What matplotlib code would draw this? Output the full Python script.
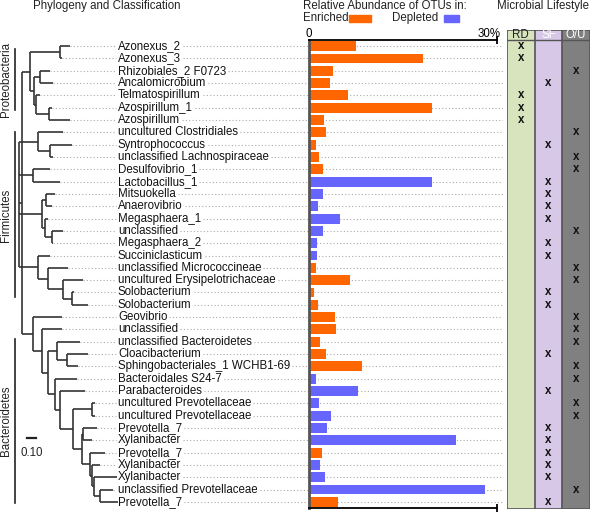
import matplotlib.pyplot as plt
from matplotlib.patches import Rectangle

plt.rcParams['font.family'] = ['Liberation Sans', 'DejaVu Sans']

W, H = 592, 513

labels = [
    "Azonexus_2", "Azonexus_3", "Rhizobiales_2 F0723", "Ancalomicrobium",
    "Telmatospirillum", "Azospirillum_1", "Azospirillum", "uncultured Clostridiales",
    "Syntrophococcus", "unclassified Lachnospiraceae", "Desulfovibrio_1", "Lactobacillus_1",
    "Mitsuokella", "Anaerovibrio", "Megasphaera_1", "unclassified",
    "Megasphaera_2", "Succiniclasticum", "unclassified Micrococcineae",
    "uncultured Erysipelotrichaceae", "Solobacterium", "Solobacterium",
    "Geovibrio", "unclassified", "unclassified Bacteroidetes", "Cloacibacterium",
    "Sphingobacteriales_1 WCHB1-69", "Bacteroidales S24-7", "Parabacteroides",
    "uncultured Prevotellaceae", "uncultured Prevotellaceae", "Prevotella_7",
    "Xylanibacter", "Prevotella_7", "Xylanibacter", "Xylanibacter",
    "unclassified Prevotellaceae", "Prevotella_7",
]

# relative abundance (%) of each OTU
abundance = [
    7.5, 18.2, 3.8, 3.4, 6.2, 19.6, 2.4, 2.7,
    1.1, 1.6, 2.2, 19.6, 2.3, 1.4, 4.9, 2.3,
    1.2, 1.3, 1.1, 6.6, 0.85, 1.5, 4.2, 4.3,
    1.75, 2.7, 8.5, 1.1, 7.8, 1.6, 3.5, 2.8,
    23.4, 2.0, 1.75, 2.6, 28.1, 4.7,
]

# E = enriched, D = depleted
status = list("EEEEEEEEEEEDDDDDDDEEEEEEEEEDDDDDDEDDDE")

lifestyle_cols = ["RD", "SF", "O/U"]
lifestyle = [
    "RD", "RD", "O/U", "SF", "RD", "RD", "RD", "O/U",
    "SF", "O/U", "O/U", "SF", "SF", "SF", "SF", "O/U",
    "SF", "SF", "O/U", "O/U", "SF", "SF", "O/U", "O/U",
    "O/U", "SF", "O/U", "O/U", "SF", "O/U", "O/U", "SF",
    "SF", "SF", "SF", "SF", "O/U", "SF",
]

# tree, leaves numbered by row, branch lengths in substitutions/site
tree_newick = """
(
 (7:0.278,(8:0.244,9:0.033):0.133):0.211,
 (10:0.189,11:0.300):0.156,
 (
  ((0:0.111,1:0.022):0.333,((2:0.111,3:0.144):0.067,(4:0.044,(5:0.033,6:0.233):0.144):0.022):0.044):0.089,
  (22:0.322,(23:0.222,((24:0.256,(25:0.233,26:0.122):0.111):0.100,
   (27:0.244,(28:0.278,((29:0.033,30:0.033):0.211,((31:0.156,32:0.100):0.011,
   (33:0.167,(34:0.089,(35:0.256,(36:0.144,37:0.200):0.067):0.022):0.022):0.089):0.100):0.144):0.056):0.078):0.067):0.100):0.122
 ):0.033,
 ((12:0.100,13:0.067):0.044,(14:0.033,(15:0.122,16:0.011):0.078):0.033):0.256,
 (17:0.133,(18:0.222,(19:0.222,(20:0.022,21:0.178):0.100):0.167):0.111):0.211
);
"""

phyla = ["Proteobacteria", "Firmicutes", "Bacteroidetes"]
phylum_rows = [(0.2, 5.2), (7.0, 20.4), (23.8, 37.1)]

enriched_color = "#FF6600"
depleted_color = "#6666FF"
col_colors = ["#D7E4BD", "#D6C8E6", "#808080"]
line_color = "#333333"


def parse_newick(s):
    s = "".join(s.split())
    pos = 0

    def node():
        nonlocal pos
        n = {"children": [], "name": None, "length": 0.0}
        if s[pos] == "(":
            pos += 1
            while True:
                n["children"].append(node())
                if s[pos] == ",":
                    pos += 1
                else:
                    break
            pos += 1
        start = pos
        while pos < len(s) and s[pos] not in ":,();":
            pos += 1
        n["name"] = s[start:pos] or None
        if pos < len(s) and s[pos] == ":":
            pos += 1
            start = pos
            while s[pos] not in ",();":
                pos += 1
            n["length"] = float(s[start:pos])
        return n

    return node()


def layout(n, x0=0.0):
    n["x"] = x0 + n["length"]
    if n["children"]:
        for c in n["children"]:
            layout(c, n["x"])
        ys = [c["y"] for c in n["children"]]
        n["y"] = (min(ys) + max(ys)) / 2
    else:
        n["y"] = int(n["name"])


def draw(ax, n, px):
    ax.plot([px, n["x"]], [n["y"], n["y"]], color=line_color, lw=1.2, solid_capstyle="butt")
    if n["children"]:
        ys = [c["y"] for c in n["children"]]
        ax.plot([n["x"], n["x"]], [min(ys), max(ys)],
                color=line_color, lw=1.2, solid_capstyle="butt")
        for c in n["children"]:
            draw(ax, c, n["x"])


def leaves(n):
    if not n["children"]:
        return [n]
    out = []
    for c in n["children"]:
        out += leaves(c)
    return out


def rect(x0, y0, x1, y1):
    return [x0 / W, 1 - y1 / H, (x1 - x0) / W, (y1 - y0) / H]


root = parse_newick(tree_newick)
layout(root)

fig = plt.figure(figsize=(W / 100, H / 100), dpi=100)
n = len(labels)
fs = 8.3

# tree panel
px_per_unit = 90.0
x_end = 484 / px_per_unit
ax_t = fig.add_axes(rect(0, 40, 503, 508))
ax_t.set_xlim(-19 / px_per_unit, x_end)
ax_t.set_ylim(n - 0.5, -0.5)
ax_t.axis("off")
draw(ax_t, root, root["x"])
label_x = 99 / px_per_unit
tips = leaves(root)
texts = []
for lf in tips:
    i = lf["y"]
    texts.append(ax_t.text(label_x, i, labels[i], fontsize=fs, va="center", ha="left",
                           color="#111111", zorder=3))

# dotted guides, broken around the labels
fig.canvas.draw()
renderer = fig.canvas.get_renderer()
inv = ax_t.transData.inverted()
gap = 2 / px_per_unit
for lf, t in zip(tips, texts):
    bb = t.get_window_extent(renderer)
    (left, _), (right, _) = inv.transform([[bb.x0, bb.y0], [bb.x1, bb.y0]])
    i = lf["y"]
    if left - gap > lf["x"]:
        ax_t.plot([lf["x"], left - gap], [i, i], color="#ABABAB", lw=0.8,
                  linestyle=(0, (1, 2)), zorder=0)
    ax_t.plot([right + gap, x_end], [i, i], color="#ABABAB", lw=0.8,
              linestyle=(0, (1, 2)), zorder=0)

for name, (r0, r1) in zip(phyla, phylum_rows):
    ax_t.plot([-4 / px_per_unit] * 2, [r0, r1], color="#222222", lw=1.2, clip_on=False)
    ax_t.text(-13 / px_per_unit, (r0 + r1) / 2, name, rotation=90, fontsize=fs,
              va="center", ha="center", color="#222222")

# scale bar
ax_t.plot([8 / px_per_unit, 8 / px_per_unit + 0.10], [31.8, 31.8], color="#222222", lw=1.6)
ax_t.text(8 / px_per_unit + 0.05, 33.0, "0.10", fontsize=fs, ha="center", va="center",
          color="#222222")

# bar panel
ax_b = fig.add_axes(rect(309, 40, 497, 508))
ax_b.set_facecolor("none")
colors = [enriched_color if s == "E" else depleted_color for s in status]
ax_b.barh(range(n), abundance, height=0.8, color=colors, edgecolor="none", zorder=2)
ax_b.set_xlim(0, 30)
ax_b.set_ylim(n - 0.5, -0.5)
ax_b.spines["right"].set_visible(False)
ax_b.spines["left"].set_color("#555555")
ax_b.spines["left"].set_linewidth(2)
for sp in ("top", "bottom"):
    ax_b.spines[sp].set_linewidth(1.3)
ax_b.set_yticks([])
ax_b.set_xticks([30])
ax_b.tick_params(axis="x", which="both", top=True, bottom=True, labeltop=False,
                 labelbottom=False, direction="inout", length=6, width=1.3)
ax_b.text(0, 1 + 6 / 468, "0", transform=ax_b.get_xaxis_transform(), fontsize=fs,
          ha="center", va="center")
ax_b.text(30.6, 1 + 6 / 468, "30%", transform=ax_b.get_xaxis_transform(), fontsize=fs,
          ha="right", va="center")

# lifestyle panel
ax_l = fig.add_axes(rect(507, 30, 590, 509))
row_px = 468 / n
ax_l.set_xlim(0, 3)
ax_l.set_ylim(n - 0.5 + 1 / row_px, -0.5 - 10 / row_px)
ax_l.axis("off")
for j, c in enumerate(lifestyle_cols):
    ax_l.axvspan(j, j + 1, color=col_colors[j], zorder=0)
    ax_l.text(j + 0.5, -0.5 - 5 / row_px, c, fontsize=fs, ha="center", va="center",
              color="#222222" if j == 0 else "white")
for j in range(4):
    ax_l.axvline(j, color="#555555", lw=1.2)
ax_l.axhline(-0.5, color="#555555", lw=1.0)
ax_l.axhline(-0.5 - 10 / row_px, color="#555555", lw=1.2)
ax_l.axhline(n - 0.5 + 1 / row_px, color="#555555", lw=1.2)
for i, ls in enumerate(lifestyle):
    j = lifestyle_cols.index(ls)
    ax_l.text(j + 0.5, i, "x", fontsize=fs, fontweight="bold", ha="center",
              va="center", color="#111111")


# headers
def fig_text(x, y, s, **kw):
    fig.text(x / W, 1 - y / H, s, fontsize=fs, va="center", ha="left", color="#222222", **kw)


fig_text(33, 6, "Phylogeny and Classification")
fig_text(303, 6, "Relative Abundance of OTUs in:")
fig_text(303, 18, "Enriched")
fig_text(392, 18, "Depleted")
fig_text(497, 6, "Microbial Lifestyle")
fig.patches.append(Rectangle((349 / W, 1 - 22 / H), 22 / W, 7 / H,
                             transform=fig.transFigure, color=enriched_color))
fig.patches.append(Rectangle((444 / W, 1 - 22 / H), 15 / W, 7 / H,
                             transform=fig.transFigure, color=depleted_color))

fig.savefig("out.png", dpi=100)
